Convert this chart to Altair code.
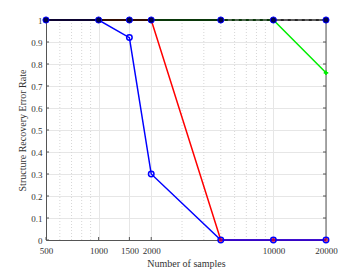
import altair as alt
import pandas as pd

samples = [500, 1000, 1500, 2000, 5000, 10000, 20000]
blue_vals = [1, 1, 0.92, 0.30, 0, 0, 0]
red_vals = [1, 1, 1, 1, 0, 0, 0]
green_vals = [1, 1, 1, 1, 1, 1, 0.76]
black_vals = [1, 1, 1, 1, 1, 1, 1]
dash_x = [5000, 20000]
dash_vals = [1, 1]
x_ticks = [500, 1000, 1500, 2000, 10000, 20000]
minor_ticks = [600, 700, 800, 900, 3000, 4000, 5000, 6000, 7000, 8000, 9000]
y_ticks = [0, 0.1, 0.2, 0.3, 0.4, 0.5, 0.6, 0.7, 0.8, 0.9, 1.0]

FONT = "Liberation Serif"
W, H = 280, 220

def df(xs, ys):
    return pd.DataFrame({"x": xs, "y": ys})

xs = alt.Scale(type="log", domain=[500, 20000], nice=False)
ysc = alt.Scale(domain=[0, 1], nice=False)

xaxis = alt.Axis(values=x_ticks, title="Number of samples", labelFont=FONT, titleFont=FONT,
                 labelFontSize=9, titleFontSize=10, titleFontWeight="normal", labelColor="#333",
                 titleColor="#333", ticks=False, domainColor="#555",
                 gridColor="#e6e6e6", labelPadding=6, titlePadding=3, labelFlush=False,
                 format="d")
yaxis = alt.Axis(values=y_ticks, title="Structure Recovery Error Rate", labelFont=FONT, titleFont=FONT,
                 labelFontSize=9, titleFontSize=10, titleFontWeight="normal", labelColor="#333",
                 titleColor="#333", ticks=False, domainColor="#555",
                 gridColor="#e6e6e6", labelPadding=4, titlePadding=3,
                 labelExpr="datum.value == 1 ? '1' : (datum.value == 0 ? '0' : format(datum.value, '.1f'))")

X = lambda: alt.X("x:Q", scale=xs, axis=xaxis)
Y = lambda: alt.Y("y:Q", scale=ysc, axis=yaxis)

frame = alt.Chart(df([500], [0])).mark_rule(color="#555", strokeWidth=1).encode(
    x=alt.value(W), y=alt.value(0), y2=alt.value(H))
frame_top = alt.Chart(df([500], [0])).mark_rule(color="#555", strokeWidth=1).encode(
    x=alt.value(0), x2=alt.value(W), y=alt.value(0))

ytick_df = pd.DataFrame({"y": y_ticks})
left_ticks = alt.Chart(ytick_df).mark_rule(color="#555", strokeWidth=1).encode(
    y=Y(), x=alt.value(0), x2=alt.value(3))
right_ticks = alt.Chart(ytick_df).mark_rule(color="#555", strokeWidth=1).encode(
    y=Y(), x=alt.value(W - 3), x2=alt.value(W))
xtick_df = pd.DataFrame({"x": x_ticks})
bottom_ticks = alt.Chart(xtick_df).mark_rule(color="#555", strokeWidth=1).encode(
    x=X(), y=alt.value(H - 3), y2=alt.value(H))

minor = alt.Chart(pd.DataFrame({"x": minor_ticks})).mark_rule(
    color="#d6d6d6", strokeDash=[1, 2], strokeWidth=1).encode(x=X())

blue_line = alt.Chart(df(samples, blue_vals)).mark_line(color="#0000ff", strokeWidth=1.5).encode(x=X(), y=Y())
blue_pts = alt.Chart(df(samples[2:], blue_vals[2:])).mark_point(
    shape="circle", color="#0000ff", filled=False, size=30, strokeWidth=1.5, opacity=1).encode(x=X(), y=Y())
red_line = alt.Chart(df(samples, red_vals)).mark_line(color="#ff0000", strokeWidth=1.5).encode(x=X(), y=Y())
red_pts = alt.Chart(df(samples[4:], red_vals[4:])).mark_point(
    shape="square", color="#ff0000", filled=False, size=6, strokeWidth=1, opacity=1).encode(x=X(), y=Y())
green_line = alt.Chart(df(samples, green_vals)).mark_line(color="#00ee00", strokeWidth=1.5).encode(x=X(), y=Y())
green_pts = alt.Chart(df(samples[6:], green_vals[6:])).mark_point(
    shape="cross", color="#00ee00", filled=True, size=20, opacity=1).encode(x=X(), y=Y())
black_line = alt.Chart(df(samples, black_vals)).mark_line(color="#000000", strokeWidth=1.6).encode(x=X(), y=Y())
dash_line = alt.Chart(df(dash_x, dash_vals)).mark_line(color="#9a9a9a", strokeWidth=1.2, strokeDash=[4, 3]).encode(x=X(), y=Y())
black_pts = alt.Chart(df(samples, black_vals)).mark_point(
    shape="circle", fill="#000050", stroke="#0000ff", filled=True, opacity=1, size=38, strokeWidth=1).encode(x=X(), y=Y())

chart = alt.layer(
    minor, frame, frame_top, left_ticks, right_ticks, bottom_ticks,
    green_line, green_pts, red_line, blue_line,
    red_pts, blue_pts, black_line, dash_line, black_pts
).properties(
    width=W, height=H,
    autosize=alt.AutoSizeParams(type="none"),
    padding={"left": 38, "top": 12, "right": 20, "bottom": 30},
    background="white"
).configure_view(stroke=None)

chart.save("out.html", embed_options={"renderer": "svg", "actions": False})
